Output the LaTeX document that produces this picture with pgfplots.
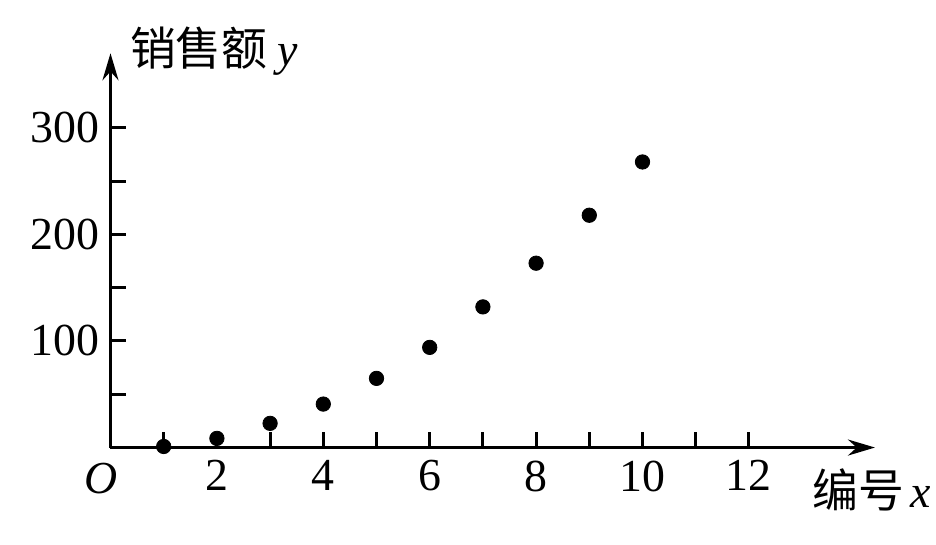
\documentclass[border=0pt]{standalone}
\usepackage{pgfplots}
\pgfplotsset{compat=1.18}
\usepackage{fontspec}
\setmainfont{Liberation Serif}
\newfontfamily\cjk{Noto Sans CJK SC}
\usetikzlibrary{arrows.meta}
\begin{document}
\begin{tikzpicture}
\begin{axis}[
  x=26.6bp, y=0.5328bp,
  xmin=0, xmax=14.37, ymin=0, ymax=370,
  axis lines=left,
  axis line style={line width=1.5bp, -{Stealth[length=13.5bp,width=8bp]}},
  tick align=inside,
  major tick length=8bp,
  every tick/.style={black, line width=1.5bp},
  xtick={1,...,12},
  xticklabels={,2,,4,,6,,8,,10,,12},
  ytick={50,100,...,300},
  yticklabels={,100,,200,,300},
  /pgf/number format/assume math mode=true,
  tick label style={font=\fontsize{23}{27}\selectfont},
  xticklabel style={yshift=-3bp},
  yticklabel style={xshift=-2bp},
  clip=false,
]
\addplot[only marks, mark=*, mark size=3.6bp, black] coordinates {
(1,1) (2,8.6) (3,22.7) (4,40.8) (5,64.9) (6,94) (7,132) (8,173) (9,218) (10,268)
};
\node[anchor=north east, font=\fontsize{23}{27}\selectfont\itshape, inner sep=0pt] at (axis cs:0.14,-14) {O};
\node[anchor=west, inner sep=0pt, font=\fontsize{23}{27}\selectfont] at (axis cs:0.36,372) {{\cjk 销售额}\hspace{5bp}\textit{y}};
\node[anchor=west, inner sep=0pt, font=\fontsize{23}{27}\selectfont] at (axis cs:13.19,-40) {{\cjk 编号}\hspace{3bp}\textit{x}};
\coordinate (bl) at (axis cs:-2.077,-90.56);
\coordinate (tr) at (axis cs:15.517,420);
\end{axis}
\path (bl) rectangle (tr);
\end{tikzpicture}
\end{document}
